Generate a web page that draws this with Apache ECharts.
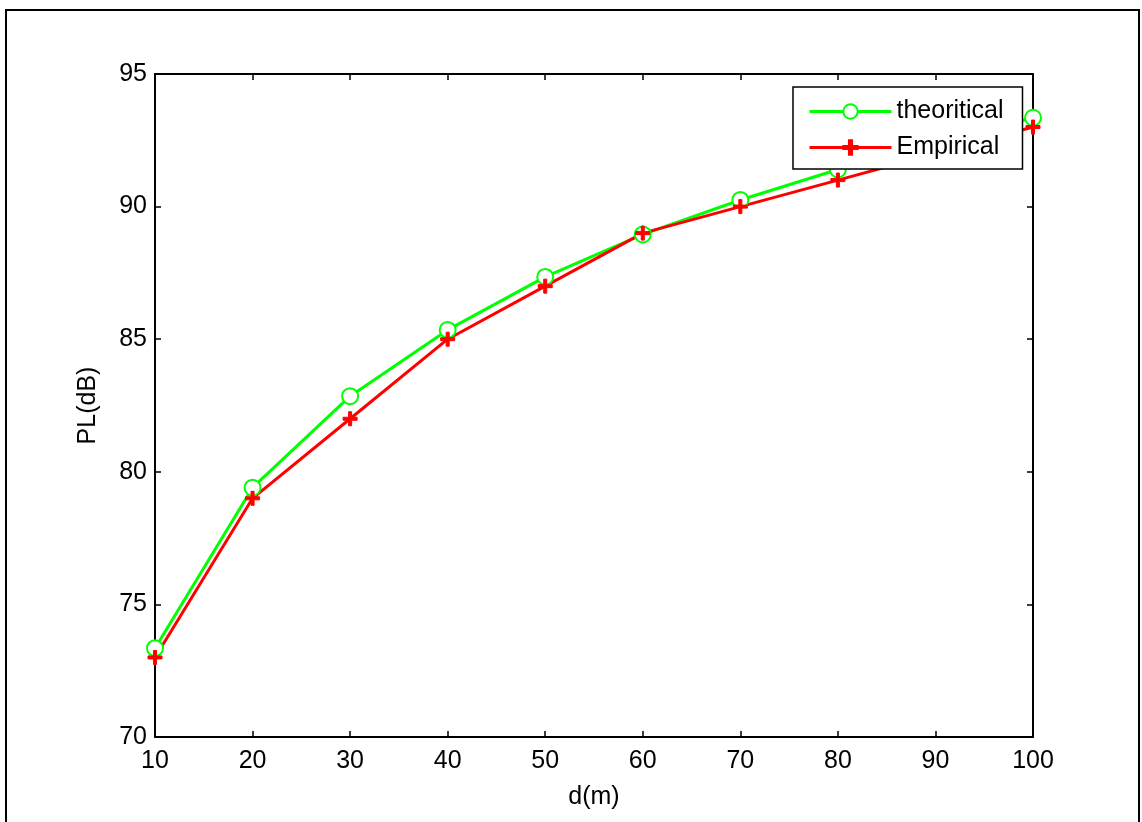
<!DOCTYPE html>
<html>
<head>
<meta charset="utf-8">
<script src="https://cdn.jsdelivr.net/npm/echarts@6/dist/echarts.min.js"></script>
<style>
  html, body { margin: 0; padding: 0; background: #fff; }
  #main { width: 1142px; height: 822px; }
</style>
</head>
<body>
<div id="main"></div>
<script>
var distances = [10, 20, 30, 40, 50, 60, 70, 80, 90, 100];
var theoretical = [73.35, 79.4, 82.85, 85.35, 87.35, 88.95, 90.25, 91.4, 92.4, 93.35];
var empirical = [73.0, 79.0, 82.0, 85.0, 87.0, 89.0, 90.0, 91.0, 92.0, 93.0];

function pairs(xs, ys) {
  return xs.map(function (x, i) { return [x, ys[i]]; });
}

var font = 'Liberation Sans, Arial, sans-serif';
var star = 'path://M-1.3,-6 L1.3,-6 L1.3,-1.3 L6,-1.3 L6,1.3 L1.3,1.3 L1.3,6 L-1.3,6 L-1.3,1.3 L-6,1.3 L-6,-1.3 L-1.3,-1.3 Z';
var tick = { inside: true, length: 6, lineStyle: { color: '#000', width: 1.5 } };
var line = { lineStyle: { color: '#000', width: 2 } };

var myChart = echarts.init(document.getElementById('main'));
var option = {
  backgroundColor: '#fff',
  animation: false,
  textStyle: { fontFamily: font },
  graphic: [{
    type: 'rect',
    shape: { x: 6, y: 10, width: 1133, height: 830 },
    style: { fill: 'none', stroke: '#000', lineWidth: 2 },
    z: 0
  }],
  grid: { left: 155, top: 74, right: 109, bottom: 85 },
  legend: {
    left: 793, top: 87,
    orient: 'vertical',
    padding: [12, 19, 9, 15],
    itemGap: 11,
    itemWidth: 82,
    itemHeight: 18,
    backgroundColor: '#fff',
    borderColor: '#000',
    borderWidth: 1.5,
    borderRadius: 0,
    lineStyle: { width: 3 },
    textStyle: { fontSize: 25, color: '#000', fontFamily: font },
    data: ['theoritical', 'Empirical']
  },
  xAxis: [{
    type: 'value', min: 10, max: 100, interval: 10,
    name: 'd(m)', nameLocation: 'middle', nameGap: 48,
    nameTextStyle: { fontSize: 25, color: '#000' },
    axisLine: line, axisTick: tick,
    axisLabel: { fontSize: 25, color: '#000', margin: 12 },
    splitLine: { show: false }
  }, {
    type: 'value', min: 10, max: 100, interval: 10, position: 'top',
    axisLine: line, axisTick: tick,
    axisLabel: { show: false },
    splitLine: { show: false }
  }],
  yAxis: [{
    type: 'value', min: 70, max: 95, interval: 5,
    name: 'PL(dB)', nameLocation: 'middle', nameGap: 54,
    nameTextStyle: { fontSize: 25, color: '#000' },
    axisLine: line, axisTick: tick,
    axisLabel: { fontSize: 25, color: '#000', margin: 8 },
    splitLine: { show: false }
  }, {
    type: 'value', min: 70, max: 95, interval: 5, position: 'right',
    axisLine: line, axisTick: tick,
    axisLabel: { show: false },
    splitLine: { show: false }
  }],
  series: [{
    name: 'theoritical',
    type: 'line',
    data: pairs(distances, theoretical),
    symbol: 'emptyCircle',
    symbolSize: 16,
    color: '#00ff00',
    lineStyle: { color: '#00ff00', width: 3 },
    itemStyle: { color: '#00ff00', borderColor: '#00ff00', borderWidth: 3 }
  }, {
    name: 'Empirical',
    type: 'line',
    data: pairs(distances, empirical),
    symbol: star,
    symbolSize: 14,
    color: '#ff0000',
    lineStyle: { color: '#ff0000', width: 3 },
    itemStyle: { color: '#ff0000', borderColor: '#ff0000', borderWidth: 1 }
  }]
};
myChart.setOption(option);
</script>
</body>
</html>
